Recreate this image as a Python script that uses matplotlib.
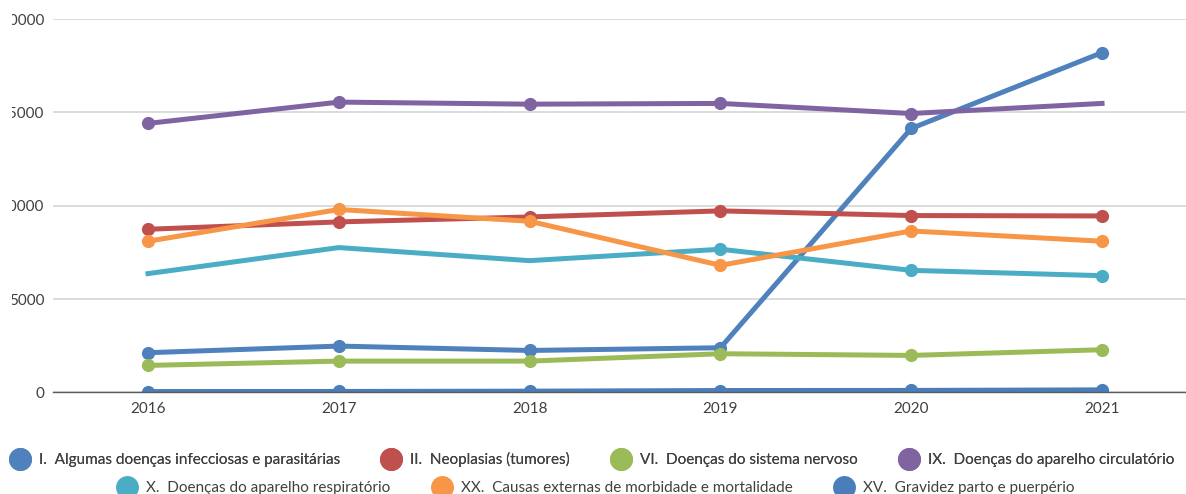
import matplotlib
matplotlib.use("Agg")
import matplotlib.pyplot as plt
from matplotlib.lines import Line2D
from matplotlib.transforms import Bbox

plt.rcParams['font.family'] = ['Lato', 'DejaVu Sans']

anos = ['2016', '2017', '2018', '2019', '2020', '2021']

# obitos por capitulo CID-10
infecciosas = [2130, 2485, 2250, 2395, 14140, 18200]
neoplasias = [8740, 9135, 9400, 9725, 9475, 9455]
nervoso = [1450, 1680, 1680, 2075, 1985, 2290]
circulatorio = [14410, 15550, 15440, 15480, 14940, 15480]
respiratorio = [6365, 7760, 7060, 7670, 6540, 6255]
externas = [8100, 9800, 9170, 6810, 8650, 8100]
gravidez = [50, 55, 70, 105, 110, 140]

nomes = ['I.  Algumas doenças infecciosas e parasitárias',
         'II.  Neoplasias (tumores)',
         'VI.  Doenças do sistema nervoso',
         'IX.  Doenças do aparelho circulatório',
         'X.  Doenças do aparelho respiratório',
         'XX.  Causas externas de morbidade e mortalidade',
         'XV.  Gravidez parto e puerpério']
series = [infecciosas, neoplasias, nervoso, circulatorio, respiratorio, externas, gravidez]
cores = ['#4F81BD', '#C0504D', '#9BBB59', '#8064A2', '#4BACC6', '#F79646', '#4A7EBB']
# pontos com marcador (no original alguns nao tem)
marcas = [range(6), range(6), range(6), range(5), [3, 4, 5], range(6), range(6)]

fig = plt.figure(figsize=(11.86, 4.94), dpi=100)
ax = fig.add_axes([0.04435, 0.2055, 0.9653, 0.756])

x = list(range(len(anos)))
for vals, cor, mk in zip(series, cores, marcas):
    ax.plot(x, vals, color=cor, lw=3.6, marker='o', markersize=9.5,
            markeredgewidth=0, markevery=list(mk), solid_joinstyle='round')

ax.set_xlim(-0.5, 5.5)
ax.set_ylim(0, 20000)
ax.set_yticks([0, 5000, 10000, 15000, 20000])
ax.set_xticks(x)
ax.set_xticklabels(anos)
ax.grid(axis='y', color='#D9D9D9', lw=1.3)
ax.set_axisbelow(True)
for s in ['top', 'right', 'left']:
    ax.spines[s].set_visible(False)
ax.spines['bottom'].set_color('#595959')
ax.spines['bottom'].set_linewidth(1)
ax.tick_params(axis='both', length=0, labelsize=11, colors='#404040')
ax.tick_params(axis='y', pad=6)
ax.tick_params(axis='x', pad=7)

# no original os rotulos do eixo y aparecem cortados a esquerda
corte = Bbox.from_extents(12, 0, 1186, 494)
for lbl in ax.get_yticklabels():
    lbl.set_clip_on(True)
    lbl.set_clip_box(corte)

# legenda em duas linhas, como no excel
handles = [Line2D([], [], ls='', marker='o', markersize=16.5, color=c, markeredgewidth=0) for c in cores]
kw = dict(frameon=False, fontsize=11.0, handlelength=1.1, handletextpad=0.7,
          columnspacing=2.8, borderpad=0, labelcolor='#404040', loc='center')
leg1 = fig.legend(handles[:4], nomes[:4], ncol=4, bbox_to_anchor=(0.5, 0.069), **kw)
fig.add_artist(leg1)
fig.legend(handles[4:], nomes[4:], ncol=3, bbox_to_anchor=(0.503, 0.012), **kw)

fig.savefig('out.png', dpi=100)
